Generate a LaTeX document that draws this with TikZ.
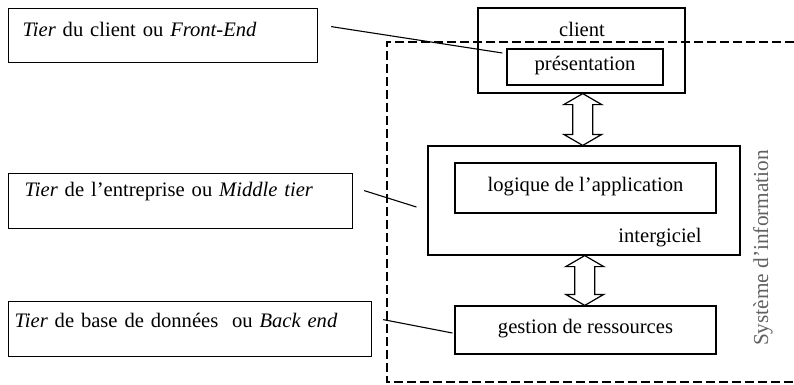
\documentclass[tikz,border=0pt]{standalone}
\usepackage{fontspec}
\setmainfont{Liberation Serif}
\usetikzlibrary{calc}

% double-headed hollow arrow from the bottom of #1 to the top of #2
\newcommand\bothways[2]{%
  \draw[twoway] let \p1=(#1.south), \p2=(#2.north), \n1={0.5*\x1+0.5*\x2} in
    ({\n1*1pt},\y1) -- ({\n1*1pt+19pt},{\y1-11pt}) -- ({\n1*1pt+10pt},{\y1-11pt})
    -- ({\n1*1pt+10pt},{\y2+11pt}) -- ({\n1*1pt+19pt},{\y2+11pt}) -- ({\n1*1pt},\y2)
    -- ({\n1*1pt-19pt},{\y2+11pt}) -- ({\n1*1pt-10pt},{\y2+11pt})
    -- ({\n1*1pt-10pt},{\y1-11pt}) -- ({\n1*1pt-19pt},{\y1-11pt}) -- cycle;}

\begin{document}
\begin{tikzpicture}[x=1pt,y=-1pt,line width=1.2pt,
  every node/.style={font=\fontsize{20.6}{24}\selectfont},
  tierbox/.style={draw,anchor=north west,align=left,inner ysep=0pt},
  layerbox/.style={draw,inner sep=0pt,text height=12pt,text depth=5pt},
  tag/.style={anchor=base,inner sep=0pt},
  link/.style={line width=1.1pt},
  frame/.style={line width=1.1pt,dash pattern=on 9pt off 4pt},
  twoway/.style={line width=1.2pt,fill=white,line join=miter}]

\useasboundingbox (0,0) rectangle (794,384);

% system boundary (open on the right)
\coordinate (sysNW) at (387,42);
\coordinate (sysNE) at (794,42);
\coordinate (sysSE) at (794,382);
\draw[frame] (sysNE) -- (sysNW) -- (sysNW |- sysSE) -- (sysSE);
\node[tag,rotate=90,text=black!62,font=\fontsize{21.3}{24}\selectfont] (sys) at (768,248) {Système d'information};

% tier descriptions
\node[tierbox,inner xsep=14pt,text width=281pt,text height=28pt,text depth=26pt]
  (t1) at (8,8) {\textit{Tier} du client ou \textit{Front-End}};
\node[tierbox,inner xsep=16pt,text width=312pt,text height=23pt,text depth=32pt]
  (t2) at (8,173) {\textit{Tier} de l'entreprise ou \textit{Middle tier}};
\node[tierbox,inner xsep=6pt,text width=351pt,text height=26pt,text depth=29pt]
  (t3) at (8,301) {\textit{Tier} de base de données\ \ ou \textit{Back end}};

% layers
\node[draw,inner sep=0pt,minimum width=207pt,minimum height=85pt] (client) at (581.5,50.5) {};
\node[tag] (clientlbl) at (582,36) {client};
\node[layerbox,minimum width=156pt,minimum height=36pt] (pres) at (585,67) {présentation};

\node[draw,inner sep=0pt,minimum width=312pt,minimum height=109pt] (middle) at (584,200.5) {};
\node[layerbox,minimum width=261pt,minimum height=50pt] (logic) at (585.5,188) {logique de l'application};
\node[tag] (mwlbl) at (660,242) {intergiciel};

\node[layerbox,minimum width=261pt,minimum height=48pt] (res) at (585.5,330) {gestion de ressources};

% exchanges between layers
\bothways{client}{middle}
\bothways{middle}{res}

% pointers from descriptions to layers
\coordinate (p1a) at ($(t1.east)+(13,-9)$);
\coordinate (p1b) at ($(pres.west)+(-4,-14)$);
\coordinate (p2a) at ($(t2.east)+(11,-10.5)$);
\coordinate (p2b) at ($(middle.west)+(-11,6.5)$);
\coordinate (p3a) at ($(t3.east)+(11,-9.5)$);
\coordinate (p3b) at ($(res.west)+(-2,3)$);
\draw[link] (p1a) -- (p1b);
\draw[link] (p2a) -- (p2b);
\draw[link] (p3a) -- (p3b);
\end{tikzpicture}
\end{document}
